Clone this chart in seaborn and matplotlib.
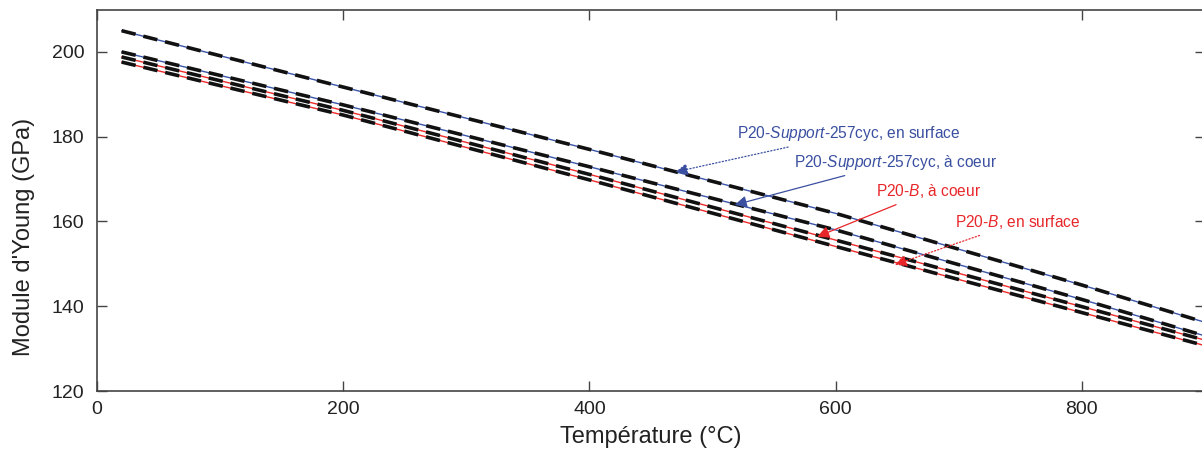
import matplotlib
matplotlib.use("Agg")
import matplotlib.pyplot as plt
import seaborn as sns
import numpy as np

# data (temperature in °C, Young's modulus in GPa)
temperature = [20, 200, 400, 600, 800, 900]
support_surface = [205.0, 191.7, 177.0, 161.9, 145.0, 136.2]
support_coeur = [200.0, 187.5, 172.9, 158.0, 141.6, 133.0]
b_coeur = [198.8, 186.2, 171.1, 155.6, 139.9, 132.0]
b_surface = [197.6, 185.1, 169.8, 154.1, 138.5, 130.7]

x_ticks = [0, 200, 400, 600, 800]
y_ticks = [120, 140, 160, 180, 200]

blue = "#3b55a8"
red = "#ee2b2b"
text_blue = "#3a4fa0"
text_red = "#e8262a"

sns.set_theme(style="ticks")
plt.rcParams["font.family"] = ["Liberation Sans", "DejaVu Sans"]
plt.rcParams["mathtext.fontset"] = "custom"
plt.rcParams["mathtext.rm"] = "Liberation Sans"
plt.rcParams["mathtext.it"] = "Liberation Sans:italic"

fig = plt.figure(figsize=(12.02, 4.61), dpi=100)
ax = fig.add_axes([97 / 1202, 1 - 391 / 461, (1205 - 97) / 1202, (391 - 9.5) / 461])

series = [
    (support_surface, blue),
    (support_coeur, blue),
    (b_coeur, red),
    (b_surface, red),
]
for vals, col in series:
    sns.lineplot(x=temperature, y=vals, color=col, linewidth=1.0, ax=ax)
    sns.lineplot(x=temperature, y=vals, color="#111111", linewidth=2.6,
                 linestyle=(0, (4, 2.2)), ax=ax, zorder=3)

ax.set_xlim(0, 900)
ax.set_ylim(120, 210)
ax.set_xticks(x_ticks)
ax.set_yticks(y_ticks)
ax.tick_params(direction="in", length=7, width=1, color="#444444",
               labelsize=14, labelcolor="#222222", top=True, right=True)
ax.tick_params(axis="x", pad=7)
ax.tick_params(axis="y", pad=9)
for sp in ax.spines.values():
    sp.set_color("#444444")
    sp.set_linewidth(1.2)
    sp.set_visible(True)

ax.set_xlabel("Température (°C)", fontsize=17, color="#222222", labelpad=6)
ax.set_ylabel("Module d'Young (GPa)", fontsize=17, color="#222222")
ax.yaxis.set_label_coords(-0.056, 0.404)

# annotations with arrows
notes = [
    ("P20-$\\mathit{Support}$-257cyc, en surface", (470, 171.7), (520, 180.7), text_blue, ":"),
    ("P20-$\\mathit{Support}$-257cyc, à coeur", (518, 163.9), (566, 174.0), text_blue, "-"),
    ("P20-$\\mathit{B}$, à coeur", (585, 156.4), (633, 167.1), text_red, "-"),
    ("P20-$\\mathit{B}$, en surface", (648, 149.8), (697, 159.8), text_red, ":"),
]
for label, tip, txt, col, ls in notes:
    ax.annotate(label, xy=tip, xytext=txt, color=col, fontsize=11.2,
                va="center", ha="left",
                arrowprops=dict(arrowstyle="-|>", color=col, lw=0.9,
                                linestyle=ls, mutation_scale=18,
                                shrinkA=2, shrinkB=0),
                zorder=5)

fig.savefig("out.png", dpi=100)
